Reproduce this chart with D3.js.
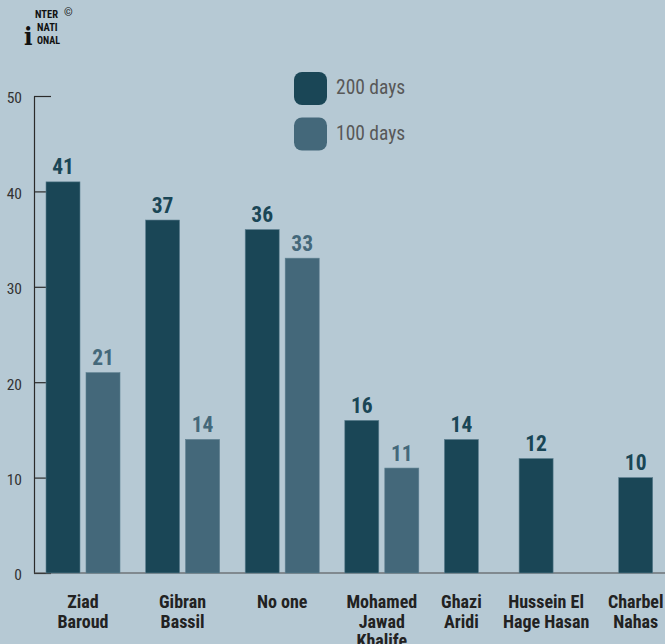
<!DOCTYPE html>
<html>
<head>
<meta charset="utf-8">
<script src="https://cdn.jsdelivr.net/npm/d3@7"></script>
<style>
  html, body { margin: 0; padding: 0; background: #b6c9d4; }
  svg { display: block; }
  .cond { font-family: "Roboto Condensed", "Liberation Sans Narrow", "DejaVu Sans Condensed", "Roboto", sans-serif; font-stretch: condensed; }
</style>
</head>
<body>
<svg id="chart" width="665" height="644"></svg>
<script>
// Candidates and poll results (percent)
const categories = [
  ["Ziad", "Baroud"],
  ["Gibran", "Bassil"],
  ["No one"],
  ["Mohamed", "Jawad", "Khalife"],
  ["Ghazi", "Aridi"],
  ["Hussein El", "Hage Hasan"],
  ["Charbel", "Nahas"]
];
const seriesNames = ["200 days", "100 days"];
const values200 = [41, 37, 36, 16, 14, 12, 10];
const values100 = [21, 14, 33, 11, null, 0, null];
const yTicks = [0, 10, 20, 30, 40, 50];

const colors = { "200 days": "#1a4656", "100 days": "#44687a" };

const svg = d3.select("#chart");
const W = 665, H = 644;
const plot = { left: 34, top: 96, bottom: 573 };

// y scale
const y = d3.scaleLinear().domain([0, 50]).range([plot.bottom, plot.top]);

// Each group is laid out by slot units: 2 units of spacing plus one per reported value
const slotCounts = categories.map((c, i) => 2 + [values200[i], values100[i]].filter(v => v !== null).length);
const groupStart = [];
slotCounts.reduce((acc, n, i) => { groupStart[i] = acc; return acc + n; }, 0);
const xUnit = d3.scaleLinear().domain([0, 1]).range([46, 46 + 24.9]);
const xSeries = d3.scaleBand().domain(seriesNames).range([0, 74]).paddingInner(0.15);

const data = categories.map((c, i) => ({
  lines: c,
  idx: i,
  bars: [
    { series: "200 days", value: values200[i] },
    { series: "100 days", value: values100[i] }
  ].filter(b => b.value !== null)
}));

// axis
const yAxis = d3.axisLeft(y).tickValues(yTicks).tickSize(-17).tickSizeOuter(0).tickPadding(12);
const gAxis = svg.append("g").attr("transform", `translate(${plot.left},0)`).call(yAxis);
gAxis.select(".domain").attr("stroke", "#2b2b2b").attr("stroke-width", 1.2);
gAxis.selectAll(".tick line").attr("stroke", "#2b2b2b").attr("stroke-width", 1.2);
gAxis.selectAll(".tick text")
  .attr("class", "cond")
  .attr("fill", "#333")
  .style("font-size", "15.5px")
  .attr("dy", "0.45em");

// baseline across the chart
svg.append("line")
  .attr("x1", plot.left).attr("x2", W)
  .attr("y1", y(0)).attr("y2", y(0))
  .attr("stroke", "#4a4a4a").attr("stroke-width", 1.2);

// bars
const groups = svg.append("g").selectAll("g.group")
  .data(data).join("g")
  .attr("class", "group")
  .attr("transform", d => `translate(${xUnit(groupStart[d.idx])},0)`);

groups.selectAll("rect")
  .data(d => d.bars.filter(b => b.value > 0))
  .join("rect")
  .attr("x", b => xSeries(b.series))
  .attr("width", xSeries.bandwidth())
  .attr("y", b => y(b.value))
  .attr("height", b => y(0) - y(b.value))
  .attr("fill", b => colors[b.series])
  .attr("stroke", "#5d7f8f").attr("stroke-width", 0.6);

// value labels
groups.selectAll("text.val")
  .data(d => d.bars.filter(b => b.value > 0))
  .join("text")
  .attr("class", "val cond")
  .attr("x", b => xSeries(b.series) + xSeries.bandwidth() / 2)
  .attr("y", b => y(b.value) - 7.5)
  .attr("text-anchor", "middle")
  .attr("fill", b => colors[b.series])
  .style("font-size", "21.5px")
  .style("font-weight", "bold")
  .text(b => b.value);

// category labels
groups.append("text")
  .attr("class", "cond")
  .attr("text-anchor", "middle")
  .attr("x", d => {
    const n = d.bars.length;
    return n === 1 ? xSeries.bandwidth() / 2 : (xSeries.range()[1] + xSeries.range()[0]) / 2 - 10 * (d.bars.some(b => b.value === 0) ? 1 : 0);
  })
  .attr("fill", "#222")
  .style("font-size", "18px")
  .style("font-weight", "bold")
  .selectAll("tspan")
  .data(d => d.lines)
  .join("tspan")
  .attr("x", function () { return d3.select(this.parentNode).attr("x"); })
  .attr("y", (l, i) => 608 + i * 19.5)
  .text(l => l);

// legend
const legend = svg.append("g").attr("transform", "translate(294,72)");
seriesNames.forEach((s, i) => {
  const g = legend.append("g").attr("transform", `translate(0,${i * 45.5})`);
  g.append("rect").attr("width", 33).attr("height", 33).attr("rx", 8).attr("ry", 8)
    .attr("fill", colors[s]);
  g.append("text").attr("class", "cond")
    .attr("x", 42).attr("y", 22)
    .attr("fill", "#585858")
    .style("font-size", "19.5px")
    .text(s);
});

// publisher mark
const logo = svg.append("g").attr("class", "cond").attr("fill", "#111").style("font-weight", "bold");
logo.append("text").attr("x", 24).attr("y", 45).style("font-size", "25px").style("font-family", "DejaVu Serif, serif").text("i");
logo.append("text").attr("x", 35).attr("y", 18).style("font-size", "10.5px").text("NTER");
logo.append("text").attr("x", 37).attr("y", 31).style("font-size", "10.5px").text("NATI");
logo.append("text").attr("x", 37).attr("y", 44).style("font-size", "10px").text("ONAL");
logo.append("text").attr("x", 64).attr("y", 16).style("font-size", "11px").style("font-weight", "normal").text("©");
</script>
</body>
</html>
